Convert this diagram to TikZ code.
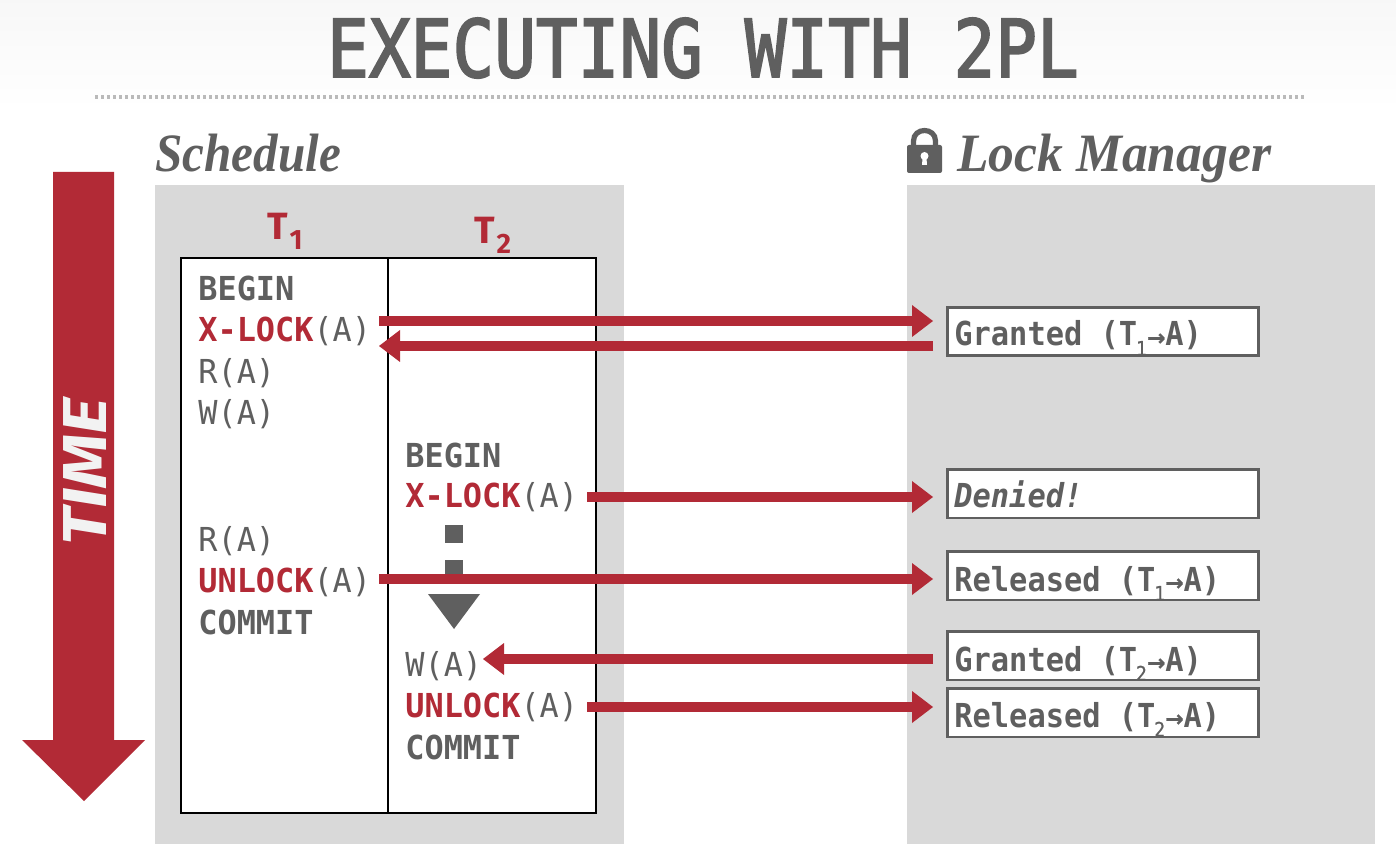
\documentclass[tikz,border=0pt]{standalone}
\usepackage{fontspec}
\setmainfont{Liberation Serif}
\setsansfont{Fira Sans}
\newfontfamily\opfont{DejaVu Sans Mono}[FakeStretch=0.966]
\newfontfamily\statfont{DejaVu Sans Mono}[FakeStretch=0.92]
\newfontfamily\digitfont{DejaVu Sans Mono}[FakeStretch=0.9,FakeBold=0.8]
\newfontfamily\bannerfont{DejaVu Sans Mono}[FakeBold=2.5]
\newfontfamily\arrowfont{DejaVu Sans}[FakeBold=1]
\definecolor{brick}{HTML}{B22A36}
\definecolor{ink}{HTML}{5F5F5F}
\definecolor{panel}{HTML}{D9D9D9}
\newlength{\unitpx}\setlength{\unitpx}{0.5pt}
% Lock mapping such as (T1 -> A), with a lowered digit and a heavy small arrow
\newcommand{\lockmap}[1]{(T\kern-0.6pt\raisebox{-4.8pt}{\fontsize{10}{10}\digitfont\mdseries #1}\kern0.1pt{\arrowfont\bfseries\fontsize{11}{11}\selectfont\raisebox{0.3pt}{→}}\kern-0.1pt A)}
\newcommand{\txnid}[1]{T\kern0.8pt\raisebox{-5pt}{\fontsize{14}{14}\selectfont #1}}
\tikzset{
  panelbox/.style={fill=panel,draw=none},
  optext/.style={anchor=base west,inner sep=0pt,text=ink,font=\fontsize{16.5}{16.5}\selectfont\opfont},
  locked/.style={draw=ink,fill=white,line width=1.4pt,anchor=north west,minimum width=311\unitpx,minimum height=48.5\unitpx},
  status/.style={anchor=base west,inner sep=0pt,text=ink,font=\fontsize{16.5}{16.5}\selectfont\statfont\bfseries},
  sig/.style={draw=brick,line width=5.25pt},
  sighead/.style={fill=brick,draw=none},
  tid/.style={text=brick,font=\fontsize{19}{19}\selectfont\sffamily\bfseries,inner sep=0pt,anchor=base west},
  heading/.style={text=ink,font=\fontsize{27}{27}\selectfont\rmfamily\bfseries\itshape,inner sep=0pt,anchor=base west},
}
\newcommand{\optwo}[4]{\node[optext] (#1) at (#2,#3) {#4};}
\begin{document}
\begin{tikzpicture}[x=0.5pt,y=-0.5pt]
\useasboundingbox (0,0) rectangle (1396,860);
\fill[white] (0,0) rectangle (1396,860);
\shade[top color=black!3,bottom color=white] (0,0) rectangle (1396,110);

% Title and rule
\node[inner sep=0pt,anchor=base,text=ink] (title) at (703,77)
  {\scalebox{1.02}[1.17]{\fontsize{34}{34}\selectfont\bannerfont EXECUTING WITH 2PL}};
\draw[draw=black!27,line width=2pt,dash pattern=on 1.5pt off 1.5pt] (95,97) -- (1305,97);

% Section headings
\node[heading] (sched) at (155,172) {\scalebox{0.91}[1]{Schedule}};
\node[heading] (lm) at (957,172) {\scalebox{0.955}[1]{Lock Manager}};
\fill[ink,rounded corners=1pt] (907,145) rectangle (942,173);
\draw[ink,line width=2.6pt] (913.5,147) -- (913.5,141) .. controls (913.5,127) and (935.5,127) .. (935.5,141) -- (935.5,147);
\fill[white] (924.5,156) circle (4);
\fill[white] (922.6,157) -- (926.4,157) -- (927,165) -- (922,165) -- cycle;

% Panels
\fill[panelbox] (155,185) rectangle (624,844);
\fill[panelbox] (907,185) rectangle (1375,844);

% Time arrow
\fill[brick] (53,172) -- (114,172) -- (114,740) -- (145,740) -- (84,801) -- (22,740) -- (53,740) -- cycle;
\node[rotate=90,text=black!5,inner sep=0pt,font=\fontsize{31}{31}\selectfont\sffamily\bfseries\itshape] (time) at (85,472) {\scalebox{1.13}[1]{TIME}};

% Schedule table
\draw[black,fill=white,line width=1pt] (181,258) rectangle (596,813);
\draw[black,line width=1pt] (388,258) -- (388,813);
\node[tid] (t1) at (267,240) {\txnid{1}};
\node[tid] (t2) at (474,244) {\txnid{2}};

% T1 operations
\optwo{a1}{198}{301}{\bfseries BEGIN}
\optwo{a2}{198}{342}{{\bfseries\color{brick}X-LOCK}(A)}
\optwo{a3}{198}{384}{R(A)}
\optwo{a4}{198}{425}{W(A)}
\optwo{a5}{198}{551}{R(A)}
\optwo{a6}{198}{592}{{\bfseries\color{brick}UNLOCK}(A)}
\optwo{a7}{198}{634}{\bfseries COMMIT}

% T2 operations
\optwo{b1}{405}{467}{\bfseries BEGIN}
\optwo{b2}{405}{508}{{\bfseries\color{brick}X-LOCK}(A)}
\optwo{b3}{405}{676}{W(A)}
\optwo{b4}{405}{717}{{\bfseries\color{brick}UNLOCK}(A)}
\optwo{b5}{405}{759}{\bfseries COMMIT}

% Blocked wait marker
\fill[ink] (445,525) rectangle (462.5,542.5);
\fill[ink] (445,560) rectangle (462.5,577);
\fill[ink] (428,594) -- (480,594) -- (454,629) -- cycle;

% Lock manager responses
\node[locked] (g1) at (946,306) {};
\node[locked] (d2) at (946,468) {};
\node[locked] (r1) at (946,550) {};
\node[locked] (g2) at (946,630) {};
\node[locked] (r2) at (946,687) {};
\node[status] at (954,346) {Granted \lockmap{1}};
\node[status] at (954,508) {\itshape Denied!};
\node[status] at (954,591) {Released \lockmap{1}};
\node[status] at (954,671) {Granted \lockmap{2}};
\node[status] at (954,727) {Released \lockmap{2}};

% Request and response arrows
\coordinate (e1) at (379,321); \coordinate (f1) at (933,321);
\coordinate (e2) at (933,346); \coordinate (f2) at (379,346);
\coordinate (e3) at (587,497); \coordinate (f3) at (933,497);
\coordinate (e4) at (379,579); \coordinate (f4) at (933,579);
\coordinate (e5) at (933,659); \coordinate (f5) at (483,659);
\coordinate (e6) at (587,707); \coordinate (f6) at (933,707);
\foreach \s/\t in {e1/f1,e3/f3,e4/f4,e6/f6}{
  \draw[sig] (\s) -- ([xshift=-20\unitpx]\t);
  \fill[sighead] (\t) -- ++(-21,-16) -- ++(0,32) -- cycle;
}
\foreach \s/\t in {e2/f2,e5/f5}{
  \draw[sig] (\s) -- ([xshift=20\unitpx]\t);
  \fill[sighead] (\t) -- ++(21,-16) -- ++(0,32) -- cycle;
}
\end{tikzpicture}
\end{document}
